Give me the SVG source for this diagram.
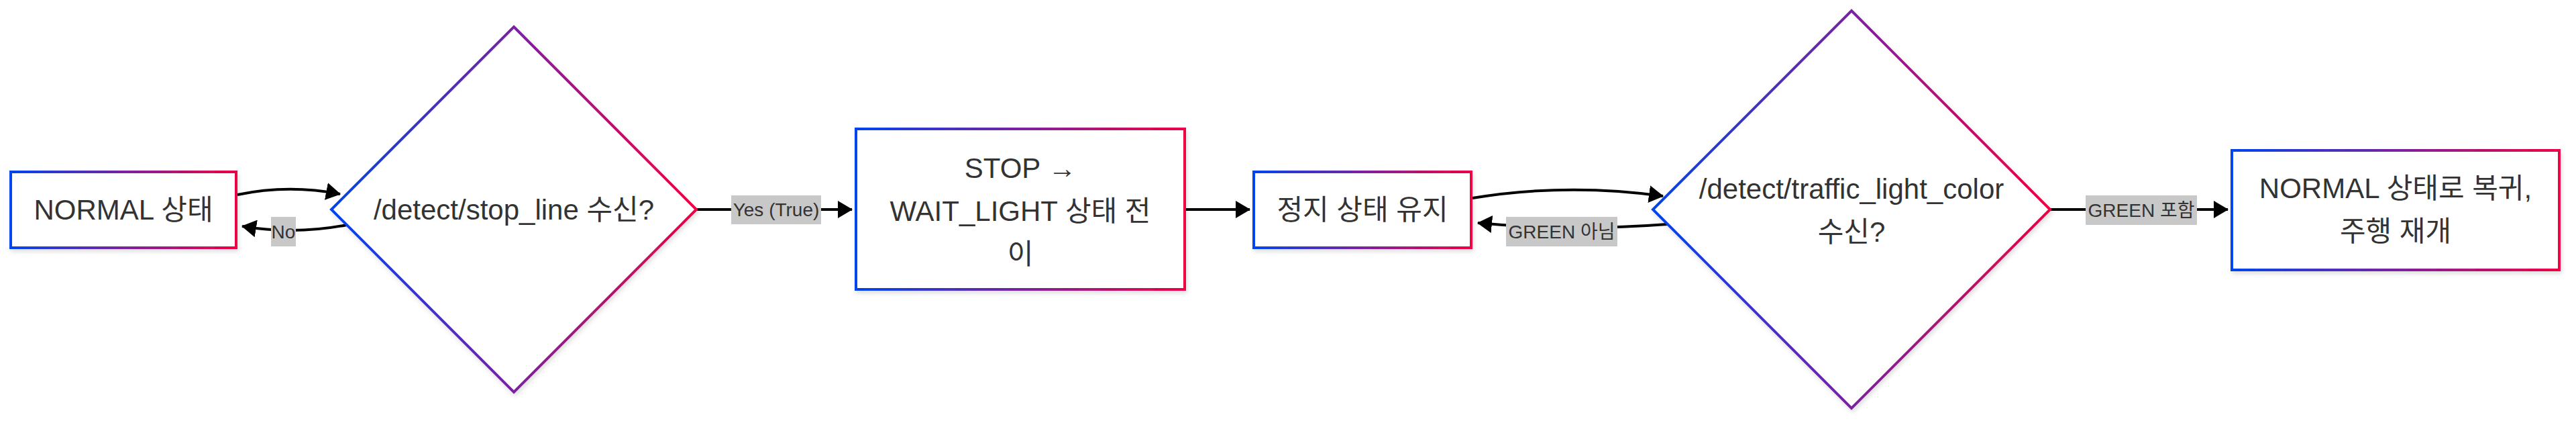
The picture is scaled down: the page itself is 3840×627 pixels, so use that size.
<svg xmlns="http://www.w3.org/2000/svg" width="3840" height="627" viewBox="0 0 3840 627">
<defs>
<linearGradient id="g" x1="0" y1="0" x2="1" y2="0">
<stop offset="0" stop-color="#0044ee"/>
<stop offset="0.5" stop-color="#7a22a0"/>
<stop offset="1" stop-color="#f00044"/>
</linearGradient>
<filter id="sh" x="-10%" y="-10%" width="120%" height="130%">
<feDropShadow dx="2" dy="4" stdDeviation="3" flood-color="#000" flood-opacity="0.12"/>
</filter>
<marker id="ah" viewBox="0 0 22 26" refX="21" refY="13" markerWidth="22" markerHeight="26" markerUnits="userSpaceOnUse" orient="auto">
<path d="M0,0 L22,13 L0,26 Z" fill="#000"/>
</marker>
</defs>
<style>
.node{fill:#fff;stroke:url(#g);stroke-width:4;filter:url(#sh)}
.t{font-family:"Liberation Sans",Arial,"Noto Sans CJK KR",sans-serif;font-size:42px;fill:#333;text-anchor:middle}
.lt{font-family:"Liberation Sans",Arial,"Noto Sans CJK KR",sans-serif;font-size:28px;fill:#333;text-anchor:middle}
.e{fill:none;stroke:#000;stroke-width:4}
.lb{fill:#c8c8c8}
</style>
<g id="connectors">
<path class="e" d="M354,290 Q430,274 507,289" marker-end="url(#ah)"/>
<path class="e" d="M517,335 Q440,350 361,337" marker-end="url(#ah)"/>
<path class="e" d="M1038,312 L1270,312" marker-end="url(#ah)"/>
<path class="e" d="M1766,312 L1863,312" marker-end="url(#ah)"/>
<path class="e" d="M2195,295 Q2335,272 2479,292" marker-end="url(#ah)"/>
<path class="e" d="M2485,334 Q2340,345 2203,332" marker-end="url(#ah)"/>
<path class="e" d="M3056,312 L3321,312" marker-end="url(#ah)"/>
<g id="label-no"><rect class="lb" x="404" y="323" width="37" height="44"/><text class="lt" x="422.5" y="355">No</text></g>
<g id="label-yes"><rect class="lb" x="1090" y="291" width="134" height="43"/><text class="lt" x="1157" y="322">Yes (True)</text></g>
<g id="label-notgreen"><rect class="lb" x="2245" y="323" width="166" height="44"/><text class="lt" x="2328" y="355">GREEN 아님</text></g>
<g id="label-green"><rect class="lb" x="3109" y="291" width="166" height="44"/><text class="lt" x="3192" y="323">GREEN 포함</text></g>
</g>
<g id="n-normal">
<rect class="node" x="16" y="256" width="336" height="113"/>
<text class="t" x="184" y="327">NORMAL 상태</text>
</g>
<g id="n-stopline">
<path class="node" d="M766,40 L1038,312 L766,584 L494,312 Z"/>
<text class="t" x="766" y="327">/detect/stop_line 수신?</text>
</g>
<g id="n-wait">
<rect class="node" x="1276" y="192" width="490" height="239"/>
<text class="t" x="1521" y="265">STOP →</text>
<text class="t" x="1521" y="329">WAIT_LIGHT 상태 전</text>
<text class="t" x="1521" y="393">이</text>
</g>
<g id="n-hold">
<rect class="node" x="1869" y="256" width="324" height="113"/>
<text class="t" x="2031" y="327">정지 상태 유지</text>
</g>
<g id="n-light">
<path class="node" d="M2760,16 L3056,312 L2760,608 L2464,312 Z"/>
<text class="t" x="2760" y="296">/detect/traffic_light_color</text>
<text class="t" x="2760" y="360">수신?</text>
</g>
<g id="n-resume">
<rect class="node" x="3327" y="224" width="488" height="178"/>
<text class="t" x="3571" y="295">NORMAL 상태로 복귀,</text>
<text class="t" x="3571" y="359">주행 재개</text>
</g>
</svg>
